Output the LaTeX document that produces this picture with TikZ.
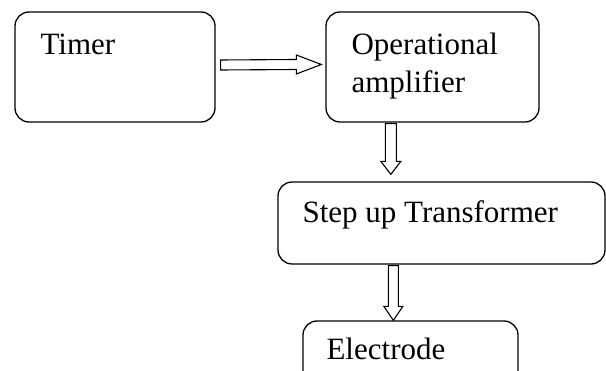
\documentclass[tikz,border=0pt]{standalone}
\usepackage{fontspec}
\setmainfont{Liberation Serif}
\usetikzlibrary{calc}

% hollow block arrows: shaft half-width #3, head half-width #4, head length #5
\newcommand\harrow[5]{%
  \draw[blockarrow] ($(#1)+(0,-#3)$) -- ($(#2)+(-#5,-#3)$) -- ($(#2)+(-#5,-#4)$)
    -- (#2) -- ($(#2)+(-#5,#4)$) -- ($(#2)+(-#5,#3)$) -- ($(#1)+(0,#3)$) -- cycle;}
\newcommand\varrow[5]{%
  \draw[blockarrow] ($(#1)+(-#3,0)$) -- ($(#2)+(-#3,-#5)$) -- ($(#2)+(-#4,-#5)$)
    -- (#2) -- ($(#2)+(#4,-#5)$) -- ($(#2)+(#3,-#5)$) -- ($(#1)+(#3,0)$) -- cycle;}

\begin{document}
\begin{tikzpicture}[x=1pt,y=-1pt,
  box/.style={draw, line width=1.3pt, rounded corners=14pt, inner sep=0pt},
  txt/.style={anchor=base west, inner sep=0pt, font=\fontsize{31}{38}\selectfont, align=left},
  blockarrow/.style={draw, line width=1.1pt, fill=white, line join=miter}]
  \useasboundingbox (0,0) rectangle (606,371);

  % blocks
  \node[box, minimum width=200pt, minimum height=110pt] (timer) at (115,67) {};
  \node[box, minimum width=213pt, minimum height=110pt] (opamp) at (432.5,67) {};
  \node[box, minimum width=327pt, minimum height=82pt]  (step)  at (441.5,223) {};
  \node[box, minimum width=215pt, minimum height=76pt]  (elec)  at (410.5,359) {};

  % block labels
  \node[txt] (ttimer) at ($(timer.north west)+(26,43)$) {Timer};
  \node[txt] (topamp) at ($(opamp.north west)+(26,43)$) {Operational};
  \node[txt] (tamp)   at ($(opamp.north west)+(26,81)$) {amplifier};
  \node[txt] (tstep)  at ($(step.north west)+(25,41)$)  {Step up Transformer};
  \node[txt] (telec)  at ($(elec.north west)+(24,39)$)  {Electrode};

  % connector anchors
  \coordinate (h1s) at ($(timer.east)+(5,-2)$);
  \coordinate (h1e) at ($(opamp.west)+(-4,-2.5)$);
  \coordinate (v1s) at ($(opamp.south west)+(65.5,1)$);
  \coordinate (v1e) at ($(step.north west)+(113.5,-7)$);
  \coordinate (v2s) at ($(step.south west)+(116,1)$);
  \coordinate (v2e) at ($(elec.north west)+(91,0)$);

  % connectors
  \harrow{h1s}{h1e}{5}{9.5}{25}
  \varrow{v1s}{v1e}{5.5}{10}{13}
  \varrow{v2s}{v2e}{5}{9.5}{14}
\end{tikzpicture}
\end{document}
